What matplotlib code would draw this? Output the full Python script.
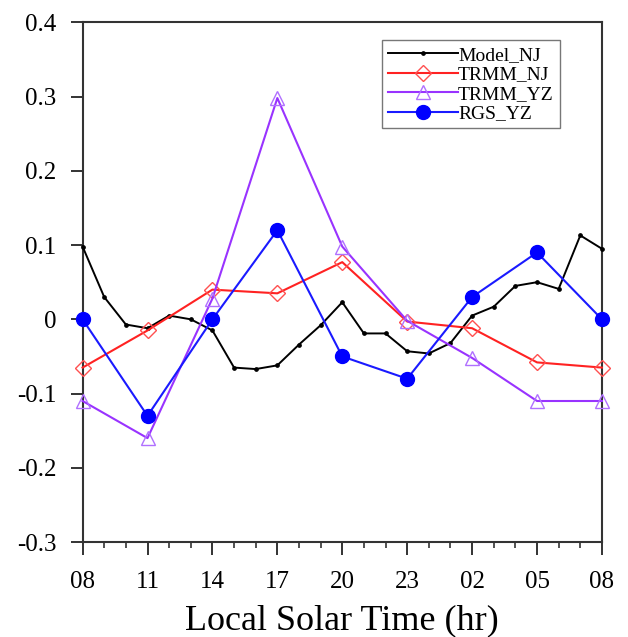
import numpy as np
import matplotlib
matplotlib.use("Agg")
from matplotlib import pyplot as plt
from matplotlib.ticker import MultipleLocator

plt.rcParams['font.family'] = ['Liberation Serif', 'DejaVu Serif']

# hours after 08 LST
hours_model = np.arange(0, 25)
model_nj = [0.098, 0.030, -0.007, -0.012, 0.005, 0.000, -0.015, -0.065, -0.067,
            -0.062, -0.034, -0.008, 0.023, -0.019, -0.019, -0.043, -0.046, -0.032,
            0.005, 0.017, 0.045, 0.050, 0.041, 0.113, 0.095]

hours_3h = np.arange(0, 25, 3)
trmm_nj = [-0.065, -0.015, 0.040, 0.035, 0.077, -0.003, -0.012, -0.058, -0.065]
trmm_yz = [-0.110, -0.160, 0.028, 0.298, 0.098, -0.002, -0.052, -0.110, -0.110]
rgs_yz = [0.000, -0.130, 0.000, 0.120, -0.050, -0.080, 0.030, 0.090, 0.000]

xtick_labels = ["08", "11", "14", "17", "20", "23", "02", "05", "08"]

fig = plt.figure(figsize=(6.28, 6.37), dpi=100)
ax = fig.add_axes([0.1315, 0.149, 0.827, 0.816])

ax.plot(hours_model, model_nj, color="black", lw=1.4, marker="o", ms=2.4,
        label="Model_NJ", clip_on=False, zorder=3)
ax.plot(hours_3h, trmm_nj, color="#ff2222", lw=1.5, marker="D", ms=8,
        mfc="none", mec="#ff5050", mew=1.0, label="TRMM_NJ", clip_on=False, zorder=4)
ax.plot(hours_3h, trmm_yz, color="#9933ff", lw=1.5, marker="^", ms=10,
        mfc="none", mec="#b070ff", mew=1.0, label="TRMM_YZ", clip_on=False, zorder=4)
ax.plot(hours_3h, rgs_yz, color="#1a1aff", lw=1.5, marker="o", ms=10,
        mfc="#0000ff", mec="#0000ff", label="RGS_YZ", clip_on=False, zorder=5)

ax.set_xlim(0, 24)
ax.set_ylim(-0.3, 0.4)
ax.set_xticks(hours_3h)
ax.set_xticklabels(xtick_labels)
ax.xaxis.set_minor_locator(MultipleLocator(1))
ax.set_yticks([-0.3, -0.2, -0.1, 0, 0.1, 0.2, 0.3, 0.4])
ax.set_yticklabels(["-0.3", "-0.2", "-0.1", "0", "0.1", "0.2", "0.3", "0.4"])

ax.tick_params(axis="both", which="major", direction="out", length=9, width=1.4,
               labelsize=18, color="#333333")
ax.tick_params(axis="x", which="major", pad=12)
ax.tick_params(axis="y", which="major", pad=10)
ax.tick_params(axis="x", which="minor", direction="out", length=4, width=1.2,
               color="#333333")
for sp in ax.spines.values():
    sp.set_linewidth(1.5)
    sp.set_color("#333333")

ax.set_xlabel("Local Solar Time (hr)", fontsize=26, labelpad=8)

leg = ax.legend(loc="upper left", bbox_to_anchor=(0.577, 0.965), fontsize=14,
                handlelength=3.6, handletextpad=0.0, labelspacing=0.1,
                borderpad=0.3, borderaxespad=0, frameon=True, fancybox=False,
                framealpha=1, markerscale=1.0)
leg.get_frame().set_edgecolor("#777777")
leg.get_frame().set_linewidth(1.0)

fig.savefig("out.png", dpi=100)
